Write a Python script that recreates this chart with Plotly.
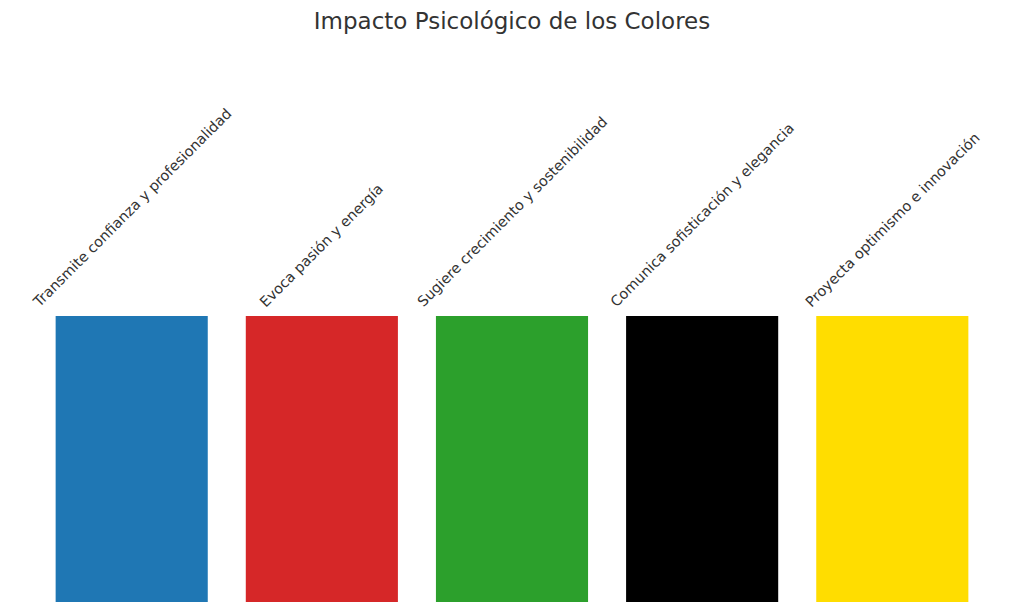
import plotly.graph_objects as go

# colour names, their psychological message and the bar heights (all equal)
colores = ["Azul", "Rojo", "Verde", "Negro", "Amarillo"]
mensajes = [
    "Transmite confianza y profesionalidad",
    "Evoca pasión y energía",
    "Sugiere crecimiento y sostenibilidad",
    "Comunica sofisticación y elegancia",
    "Proyecta optimismo e innovación",
]
valores = [1, 1, 1, 1, 1]
hex_colores = ["#1f77b4", "#d62728", "#2ca02c", "#000000", "#ffdd00"]

FONT = "DejaVu Sans"

fig = go.Figure(go.Bar(x=list(range(len(colores))), y=valores,
                       marker_color=hex_colores, marker_line_width=0,
                       hoverinfo="skip"))

for i, (msg, v) in enumerate(zip(mensajes, valores)):
    fig.add_annotation(x=i, y=v, text=msg, textangle=-45, showarrow=False,
                       xanchor="center", yanchor="bottom", yshift=3,
                       font=dict(family=FONT, size=14.4, color="#333333"))

# page body has an 8px margin, so the figure is a bit smaller than the window
fig.update_layout(
    width=1008, height=597,
    title=dict(text="Impacto Psicológico de los Colores", x=0.5, xanchor="center",
               y=1 - 13 / 597, yanchor="middle",
               font=dict(family=FONT, size=23, color="#333333")),
    plot_bgcolor="white", paper_bgcolor="white",
    bargap=0.2, showlegend=False,
    margin=dict(l=2.4, r=2.4, t=22, b=3, pad=0),
    xaxis=dict(range=[-0.64, 4.64], visible=False),
    yaxis=dict(range=[0, 2], visible=False),
)

fig.write_html("out.html")
